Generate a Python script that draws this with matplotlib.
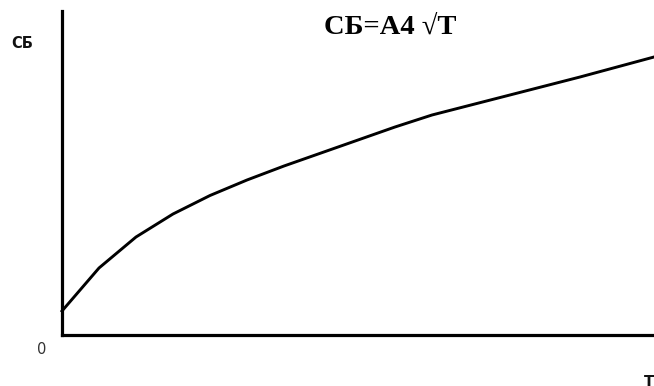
import matplotlib
matplotlib.use("Agg")
import matplotlib.pyplot as plt

T = [0, 1, 2, 3, 4, 5, 6, 7, 8, 9, 10, 11, 12, 13, 14, 15, 16]
SB = [24, 67, 98, 121, 139.5, 155, 169, 182, 195, 208, 220, 229.5, 239, 248.5, 258, 268, 278]

title_text = "СБ=А4 √Т"
y_label = "СБ"
x_label = "Т"
origin_label = "0"

W, H = 654, 386
fig = plt.figure(figsize=(W / 100, H / 100), dpi=100)
ax = fig.add_axes([62 / W, 51 / H, 592 / W, 324 / H])
ax.plot(T, SB, color="black", lw=2.1, solid_joinstyle="round", clip_on=False)
ax.set_xlim(0, 16)
ax.set_ylim(0, 324)
ax.set_xticks([])
ax.set_yticks([])
for s in ["top", "right"]:
    ax.spines[s].set_visible(False)
for s in ["left", "bottom"]:
    ax.spines[s].set_linewidth(2.3)
    ax.spines[s].set_color("black")

fig.text(390 / W, 1 - 27 / H, title_text, family="Liberation Serif", weight="bold",
         fontsize=20.5, ha="center", va="center", color="black")
fig.text(22 / W, 1 - 44 / H, y_label, family="DejaVu Sans", weight="bold",
         fontsize=10.5, ha="center", va="center", color="#111111")
fig.text(42 / W, 1 - 350 / H, origin_label, family="DejaVu Sans",
         fontsize=10.5, ha="center", va="center", color="#333333")
fig.text(649 / W, 1 - 375 / H, x_label, family="DejaVu Sans", weight="bold",
         fontsize=10.5, ha="center", va="top", color="#111111")

fig.savefig("out.png", dpi=100)
